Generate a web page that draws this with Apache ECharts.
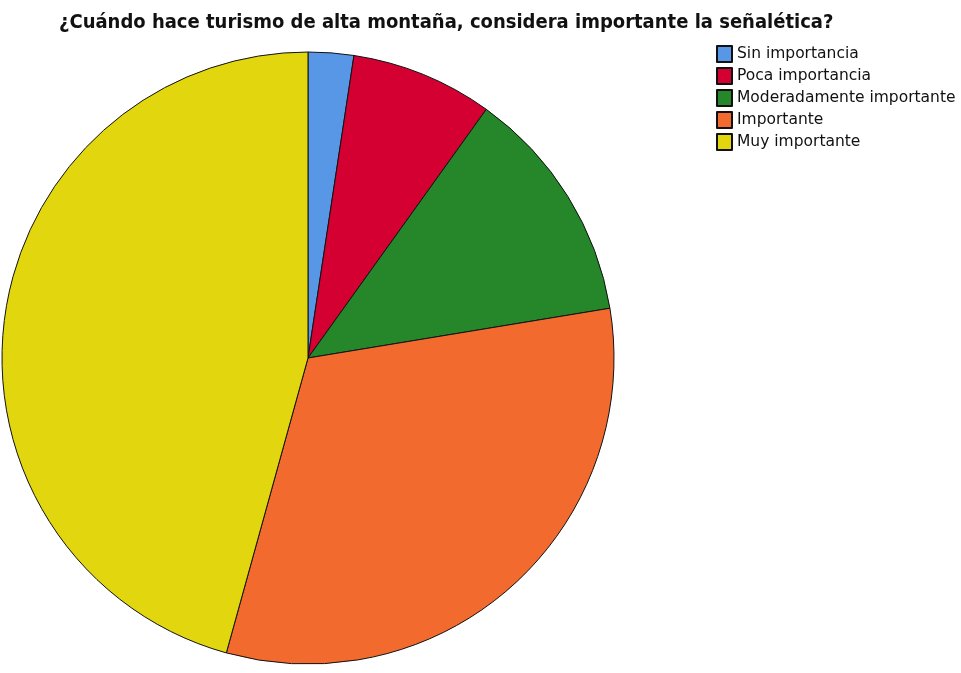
<!DOCTYPE html>
<html><head><meta charset="utf-8">
<script src="https://cdn.jsdelivr.net/npm/echarts@6/dist/echarts.min.js"></script>
<style>html,body{margin:0;padding:0;background:#fff}#c{width:961px;height:673px}</style>
</head><body><div id="c"></div>
<script>
const categories = ['Sin importancia','Poca importancia','Moderadamente importante','Importante','Muy importante'];
const values = [2.4, 7.5, 12.5, 31.9, 45.7];
const colors = ['#5897E6','#D50032','#26862A','#F26A2D','#E2D60E'];
const title = '¿Cuándo hace turismo de alta montaña, considera importante la señalética?';

const chart = echarts.init(document.getElementById('c'));
chart.setOption({
  animation: false,
  title: {
    text: title, left: 54, top: 8,
    textStyle: {fontFamily: '"DejaVu Sans Condensed", "Liberation Sans", sans-serif', fontWeight: 'bold', fontSize: 20, color: '#111'}
  },
  legend: {
    orient: 'vertical', left: 711, top: 40, itemWidth: 15, itemHeight: 16, itemGap: 4,
    icon: 'rect',
    textStyle: {fontFamily: 'DejaVu Sans', fontSize: 15.5, lineHeight: 16, color: '#111'},
    data: categories
  },
  series: [{
    type: 'pie',
    center: [308, 358],
    radius: 306,
    startAngle: 90,
    clockwise: true,
    label: {show: false},
    labelLine: {show: false},
    emphasis: {disabled: true},
    itemStyle: {borderColor: '#111', borderWidth: 1},
    data: categories.map((c, i) => ({name: c, value: values[i], itemStyle: {color: colors[i]}}))
  }]
});
</script></body></html>
